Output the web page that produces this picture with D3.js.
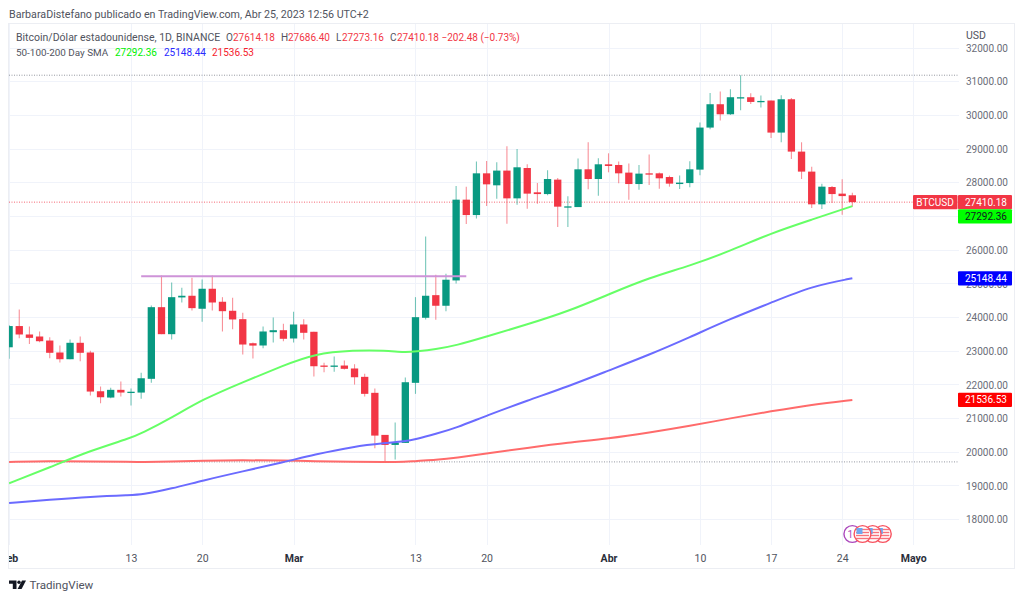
<!DOCTYPE html>
<html>
<head>
<meta charset="utf-8">
<script src="https://cdn.jsdelivr.net/npm/d3@7"></script>
<style>
html, body { margin: 0; background: #fff; }
svg { display: block; font-family: Roboto, sans-serif; }
</style>
</head>
<body>
<svg id="chart" width="1024" height="600"></svg>
<script>
// Daily candles, Feb 1 to Apr 25 2023
const firstDay = '2023-02-01';
const opens = [23100, 23730, 23480, 23420, 23300, 22945, 22745, 23233, 22945, 21794, 21607, 21836, 21770, 21755, 22163, 24291, 23489, 24580, 24630, 24244, 24838, 24452, 24184, 23935, 23220, 23153, 23548, 23607,
	23361, 23777, 23560, 22558, 22519, 22558, 22470, 22222, 21747, 20498, 20200, 20260, 22044, 23976, 24648, 24333, 25085, 27484, 27027, 28266, 27910, 28347, 27523, 28424, 27702, 27650, 28079, 27255, 27264, 28385, 28097,
	28534, 28514, 28287, 27948, 28266, 28266, 28156, 27948, 27977, 28376, 29625, 30318, 30020, 30505, 30526, 30398, 30428, 29476, 30466, 28911, 28317, 27345, 27859, 27663, 27614.18];
const highs = [23760, 24220, 23718, 23570, 23400, 23153, 23331, 23420, 22995, 21934, 21895, 22082, 21874, 22340, 24342, 25233, 25025, 24868, 25165, 25115, 25233, 24588, 24570, 24125, 23242, 23718, 23985, 23798,
	24155, 23935, 23560, 22638, 22826, 22707, 22597, 22311, 21874, 20498, 20863, 22201, 24589, 26393, 25255, 25284, 27890, 27870, 28614, 28632, 28593, 29069, 28989, 28534, 27978, 28355, 28127, 27583, 28703, 29190, 28712,
	28861, 28614, 28555, 28514, 28822, 28287, 28198, 28198, 28623, 29774, 30654, 30695, 30763, 31180, 30645, 30576, 30428, 30585, 30505, 29188, 28465, 27960, 27890, 28088, 27686.40];
const lows = [22760, 23370, 23200, 23250, 22775, 22647, 22745, 22686, 21665, 21437, 21587, 21636, 21369, 21568, 22045, 23489, 23331, 24430, 24193, 23857, 24193, 23569, 23637, 22885, 22766, 23072, 23242, 23280,
	23242, 23331, 22231, 22359, 22371, 22440, 21993, 21636, 20099, 19696, 19770, 20260, 21717, 23926, 23917, 24172, 24996, 26760, 26928, 27294, 27514, 26771, 27336, 27216, 27365, 27612, 26670, 26670, 27264, 27790, 27603,
	28296, 27970, 27484, 27782, 27918, 27811, 27870, 27800, 27850, 28207, 29574, 29833, 30000, 30140, 30326, 30220, 29316, 29188, 28692, 28097, 27235, 27205, 27383, 27038, 27273.16];
const closes = [23730, 23480, 23380, 23280, 22936, 22745, 23233, 22936, 21785, 21616, 21836, 21756, 21780, 22180, 24291, 23489, 24588, 24630, 24262, 24838, 24430, 24172, 23926, 23182, 23150, 23569, 23607, 23352,
	23777, 23530, 22537, 22519, 22558, 22460, 22210, 21717, 20477, 20200, 20269, 22062, 23994, 24630, 24333, 25106, 27484, 27027, 28266, 27939, 28347, 27523, 28445, 27663, 27650, 28097, 27276, 27285, 28385, 28097, 28534,
	28484, 28266, 27948, 28257, 28236, 28118, 27960, 27990, 28385, 29625, 30318, 30020, 30526, 30526, 30386, 30416, 29476, 30466, 28911, 28317, 27345, 27870, 27650, 27590, 27410.18];

// Moving averages, sampled every few days
const smaDates = ['2023-02-01', '2023-02-05', '2023-02-09', '2023-02-13', '2023-02-14', '2023-02-17', '2023-02-20', '2023-02-24', '2023-02-28', '2023-03-03', '2023-03-07', '2023-03-10', '2023-03-12', '2023-03-13', '2023-03-15', '2023-03-17', '2023-03-20', '2023-03-24', '2023-03-28', '2023-04-01', '2023-04-05', '2023-04-09', '2023-04-13', '2023-04-17', '2023-04-21', '2023-04-25'];
const sma50 = [19059, 19535, 20031, 20409, 20536, 21003, 21547, 22062, 22558, 22906, 23013, 23004, 22945, 22974, 23043, 23153, 23420, 23777, 24164, 24669, 25165, 25516, 25962, 26491, 26890, 27292.36];
const sma100 = [18476, 18574, 18663, 18714, 18723, 18901, 19139, 19416, 19683, 19912, 20159, 20254, 20308, 20367, 20528, 20706, 21072, 21518, 21934, 22409, 22876, 23399, 23946, 24422, 24916, 25148.44];
const sma200 = [19695, 19719, 19710, 19695, 19695, 19704, 19734, 19749, 19734, 19719, 19695, 19689, 19695, 19725, 19755, 19814, 19951, 20111, 20269, 20388, 20566, 20765, 20991, 21199, 21399, 21536.53];

const priceTicks = d3.range(18000, 32001, 1000);
const timeTicks = ['2023-02-01', '2023-02-13', '2023-02-20', '2023-03-01', '2023-03-13', '2023-03-20', '2023-04-01', '2023-04-10', '2023-04-17', '2023-04-24', '2023-05-01'];
const timeLabels = ['Feb', '13', '20', 'Mar', '13', '20', 'Abr', '10', '17', '24', 'Mayo'];
const monthLabels = ['Feb', 'Mar', 'Abr', 'Mayo'];
const resistance = { from: '2023-02-14', to: '2023-03-18', price: 25210 };
const eventDates = ['2023-04-25', '2023-04-28', '2023-04-27', '2023-04-26'];

const upColor = '#089981';
const downColor = '#f23645';
const gridColor = '#f0f3fa';
const textColor = '#50535e';
const numberFont = 10;

const parseDay = d3.utcParse('%Y-%m-%d');
const svg = d3.select('#chart');

const x = d3.scaleUtc()
	.domain([parseDay('2023-02-01'), parseDay('2023-05-01')])
	.range([9.1, 913.3]);
const y = d3.scaleLinear()
	.domain([18000, 32000])
	.range([519, 47.6]);

const candles = opens.map((open, i) => ({
	date: d3.utcDay.offset(parseDay(firstDay), i),
	open, high: highs[i], low: lows[i], close: closes[i]
}));

// Panel frame
svg.append('rect')
	.attr('x', 8.5).attr('y', 23.5)
	.attr('width', 1006).attr('height', 545)
	.attr('fill', 'none')
	.attr('stroke', '#eceef3');

svg.append('clipPath').attr('id', 'plot')
	.append('rect')
	.attr('x', 9).attr('y', 24)
	.attr('width', 950).attr('height', 521);
svg.append('clipPath').attr('id', 'timeAxis')
	.append('rect')
	.attr('x', 9).attr('y', 545)
	.attr('width', 950).attr('height', 24);

// Grid and axes
const yAxis = svg.append('g')
	.attr('transform', 'translate(959,0.5)')
	.call(d3.axisRight(y)
		.tickValues(priceTicks)
		.tickFormat((d) => d.toFixed(2))
		.tickSize(0)
		.tickPadding(7));
yAxis.select('.domain').remove();
yAxis.selectAll('text')
	.attr('font-size', numberFont)
	.attr('font-family', 'Roboto, sans-serif')
	.attr('fill', '#6a6d78');

svg.append('g')
	.attr('stroke', gridColor)
	.selectAll('line')
	.data(priceTicks)
	.join('line')
	.attr('x1', 9).attr('x2', 959)
	.attr('y1', (d) => Math.round(y(d)) + 0.5)
	.attr('y2', (d) => Math.round(y(d)) + 0.5);

svg.append('g')
	.attr('stroke', gridColor)
	.selectAll('line')
	.data(timeTicks.map(parseDay))
	.join('line')
	.attr('x1', (d) => Math.round(x(d)) + 0.5)
	.attr('x2', (d) => Math.round(x(d)) + 0.5)
	.attr('y1', 24).attr('y2', 545);

const xAxis = svg.append('g')
	.attr('clip-path', 'url(#timeAxis)')
	.append('g')
	.attr('transform', 'translate(0,545)')
	.call(d3.axisBottom(x)
		.tickValues(timeTicks.map(parseDay))
		.tickFormat((d, i) => timeLabels[i])
		.tickSize(0)
		.tickPadding(10));
xAxis.select('.domain').remove();
xAxis.selectAll('text')
	.attr('font-size', 10.5)
	.attr('font-family', 'Roboto, sans-serif')
	.attr('font-weight', (d, i) => monthLabels.includes(timeLabels[i]) ? 700 : 400)
	.attr('fill', (d, i) => monthLabels.includes(timeLabels[i]) ? '#2a2e39' : '#50535e');

const plot = svg.append('g').attr('clip-path', 'url(#plot)');

// High, low and last price lines
plot.selectAll('.range-line')
	.data([d3.max(highs), d3.min(lows)])
	.join('line')
	.attr('class', 'range-line')
	.attr('x1', 9).attr('x2', 959)
	.attr('y1', (d) => y(d))
	.attr('y2', (d) => y(d))
	.attr('stroke', '#9598a1')
	.attr('stroke-dasharray', '1 1.5');

plot.append('line')
	.attr('x1', 9).attr('x2', 959)
	.attr('y1', y(closes[closes.length - 1]))
	.attr('y2', y(closes[closes.length - 1]))
	.attr('stroke', downColor)
	.attr('stroke-opacity', 0.75)
	.attr('stroke-dasharray', '1 1.5');

// Candles
const dayWidth = x(parseDay('2023-02-02')) - x(parseDay('2023-02-01'));
const bodyWidth = dayWidth * 0.72;
const candleColor = (d) => d.close >= d.open ? upColor : downColor;

plot.append('g')
	.selectAll('line')
	.data(candles)
	.join('line')
	.attr('x1', (d) => x(d.date))
	.attr('x2', (d) => x(d.date))
	.attr('y1', (d) => y(d.high))
	.attr('y2', (d) => y(d.low))
	.attr('stroke', candleColor)
	.attr('stroke-opacity', 0.55)
	.attr('stroke-width', 1.1);

plot.append('g')
	.selectAll('rect')
	.data(candles)
	.join('rect')
	.attr('x', (d) => x(d.date) - bodyWidth / 2)
	.attr('width', bodyWidth)
	.attr('y', (d) => y(Math.max(d.open, d.close)))
	.attr('height', (d) => Math.max(1.3, Math.abs(y(d.open) - y(d.close))))
	.attr('fill', candleColor);

// Moving averages
const smaLine = d3.line()
	.x((d, i) => x(parseDay(smaDates[i])))
	.y((d) => y(d))
	.curve(d3.curveBasis);

plot.selectAll('.sma')
	.data([
		{ values: sma200, color: '#ff6b6b' },
		{ values: sma100, color: '#6b6bff' },
		{ values: sma50, color: '#66ff66' }
	])
	.join('path')
	.attr('class', 'sma')
	.attr('d', (d) => smaLine(d.values))
	.attr('fill', 'none')
	.attr('stroke', (d) => d.color)
	.attr('stroke-width', 2);

// Drawn horizontal line
plot.append('line')
	.attr('x1', x(parseDay(resistance.from)))
	.attr('x2', x(parseDay(resistance.to)))
	.attr('y1', y(resistance.price))
	.attr('y2', y(resistance.price))
	.attr('stroke', '#ce93d8')
	.attr('stroke-width', 1.8);

// Price tags on the axis, pushed down where they would overlap
const tagHeight = 14.3;
const tags = [
	{ value: closes[closes.length - 1], fill: downColor, text: '#fff' },
	{ value: sma50[sma50.length - 1], fill: '#00ff00', text: '#131722' },
	{ value: sma100[sma100.length - 1], fill: '#0000ff', text: '#fff' },
	{ value: sma200[sma200.length - 1], fill: '#ff0000', text: '#fff' }
];
let tagBottom = 0;
tags.forEach((d) => {
	d.top = Math.max(tagBottom, y(d.value) - tagHeight / 2);
	tagBottom = d.top + tagHeight;
});

const tag = svg.append('g')
	.selectAll('g')
	.data(tags)
	.join('g')
	.attr('transform', (d) => `translate(958,${d.top})`);
tag.append('rect')
	.attr('width', 54).attr('height', tagHeight)
	.attr('rx', 1)
	.attr('fill', (d) => d.fill);
tag.append('text')
	.attr('x', 7).attr('y', tagHeight / 2)
	.attr('dy', '0.35em')
	.attr('font-size', numberFont)
	.attr('fill', (d) => d.text)
	.text((d) => d.value.toFixed(2));

const symbolTag = svg.append('g')
	.attr('transform', `translate(913,${tags[0].top})`);
symbolTag.append('rect')
	.attr('width', 44.5).attr('height', tagHeight)
	.attr('rx', 1)
	.attr('fill', downColor);
symbolTag.append('text')
	.attr('x', 22).attr('y', tagHeight / 2)
	.attr('dy', '0.35em')
	.attr('text-anchor', 'middle')
	.attr('font-size', numberFont)
	.attr('fill', '#fff')
	.text('BTCUSD');

svg.append('text')
	.attr('x', 966).attr('y', 38.5)
	.attr('font-size', 10.5)
	.attr('fill', '#50535e')
	.text('USD');

// Event markers under the candles: purple at the back, then the US flags
const eventY = 534;
const events = svg.append('g')
	.selectAll('g')
	.data(eventDates.map(parseDay))
	.join('g')
	.attr('transform', (d) => `translate(${x(d)},${eventY})`);
events.append('circle')
	.attr('r', 8.4)
	.attr('fill', '#fff')
	.attr('stroke', (d, i) => i === 0 ? '#ab47bc' : '#f7525f')
	.attr('stroke-width', 1.4);
events.filter((d, i) => i > 0).each(function () {
	const flag = d3.select(this);
	[-4.5, -1.5, 1.5, 4.5].forEach((dy) => {
		flag.append('rect')
			.attr('x', -6.5).attr('y', dy - 0.7)
			.attr('width', 13).attr('height', 1.4)
			.attr('fill', '#f7727c');
	});
	flag.append('rect')
		.attr('x', -6).attr('y', -6)
		.attr('width', 6).attr('height', 6)
		.attr('fill', '#6ea8f0');
});
events.filter((d, i) => i === 0).append('text')
	.attr('x', -2).attr('y', 3.5)
	.attr('text-anchor', 'middle')
	.attr('font-size', 10)
	.attr('fill', '#ab47bc')
	.text('1');

// Header and legend
svg.append('text')
	.attr('x', 9).attr('y', 17.5)
	.attr('font-size', 10.7)
	.attr('fill', '#50535e')
	.text('BarbaraDistefano publicado en TradingView.com, Abr 25, 2023 12:56 UTC+2');

const legendRows = [
	{ y: 41, labelFont: 10.5, parts: [
		{ x: 16, text: 'Bitcoin/Dólar estadounidense, 1D, BINANCE', fill: textColor },
		{ x: 226, text: 'O', fill: textColor },
		{ x: 233, text: opens[opens.length - 1].toFixed(2), fill: downColor },
		{ x: 281, text: 'H', fill: textColor },
		{ x: 288, text: highs[highs.length - 1].toFixed(2), fill: downColor },
		{ x: 336, text: 'L', fill: textColor },
		{ x: 342, text: lows[lows.length - 1].toFixed(2), fill: downColor },
		{ x: 390, text: 'C', fill: textColor },
		{ x: 397, text: closes[closes.length - 1].toFixed(2) + ' \u2212202.48 (\u22120.73%)', fill: downColor }
	] },
	{ y: 55.5, labelFont: 9.9, parts: [
		{ x: 16, text: '50-100-200 Day SMA', fill: textColor },
		{ x: 115, text: sma50[sma50.length - 1].toFixed(2), fill: '#00f000' },
		{ x: 164, text: sma100[sma100.length - 1].toFixed(2), fill: '#2a2aff' },
		{ x: 212, text: sma200[sma200.length - 1].toFixed(2), fill: '#f5222d' }
	] }
];
legendRows.forEach((row) => {
	svg.append('g')
		.selectAll('text')
		.data(row.parts)
		.join('text')
		.attr('x', (d) => d.x)
		.attr('y', row.y)
		.attr('font-size', (d) => d.x > 100 ? numberFont : row.labelFont)
		.attr('fill', (d) => d.fill)
		.text((d) => d.text);
});

// TradingView mark
const logo = svg.append('g').attr('fill', '#131722');
logo.append('path').attr('d', 'M9 580.5H16.5V589H12.8V583.8H9Z');
logo.append('circle').attr('cx', 19).attr('cy', 582.2).attr('r', 1.7);
logo.append('path').attr('d', 'M22 580.5H26L21.6 589H17.6Z');
svg.append('text')
	.attr('x', 29.5).attr('y', 589)
	.attr('font-size', 11.6)
	.attr('fill', '#50535e')
	.text('TradingView');
</script>
</body>
</html>
